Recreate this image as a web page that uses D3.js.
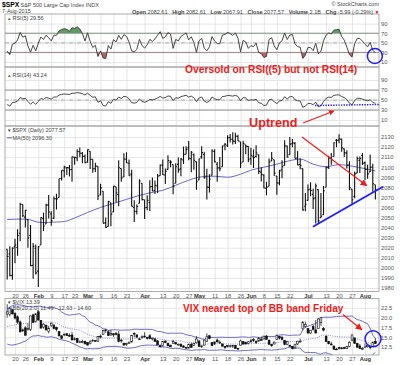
<!DOCTYPE html>
<html lang="en">
<head>
<meta charset="UTF-8">
<title>$SPX daily with RSI(5), RSI(14) and $VIX</title>
<script src="https://cdnjs.cloudflare.com/ajax/libs/d3/7.8.5/d3.min.js"></script>
<style>
  body { margin: 0; background: #fff; }
  svg { display: block; font-family: "Liberation Sans", Arial, sans-serif; }
  .tick text { font-size: 5.8px; fill: #555; font-family: "Liberation Sans", Arial, sans-serif; }
  .tick text.month { font-weight: bold; fill: #333; }
  .legend { font-size: 5.5px; fill: #444; }
  .note { fill: #f01c1c; font-weight: bold; }
</style>
</head>
<body>
<svg id="chart" width="400" height="365"></svg>
<script>
// ---- data ----
const months = ["Jan", "Feb", "Mar", "Apr", "May", "Jun", "Jul", "Aug"];
const monthDays = [
  [14,15,16,20,21,22,23,26,27,28,29,30],
  [2,3,4,5,6,9,10,11,12,13,17,18,19,20,23,24,25,26,27],
  [2,3,4,5,6,9,10,11,12,13,16,17,18,19,20,23,24,25,26,27,30,31],
  [1,2,6,7,8,9,10,13,14,15,16,17,20,21,22,23,24,27,28,29,30],
  [1,4,5,6,7,8,11,12,13,14,15,18,19,20,21,22,26,27,28,29],
  [1,2,3,4,5,8,9,10,11,12,15,16,17,18,19,22,23,24,25,26,29,30],
  [1,2,6,7,8,9,10,13,14,15,16,17,20,21,22,23,24,27,28,29,30,31],
  [3,4,5,6,7]
];

// x axis labels: [month, day, text]
const xTicks = [
  ["Jan",20,"20"],["Jan",26,"26"],["Feb",2,"Feb"],["Feb",9,"9"],["Feb",17,"17"],["Feb",23,"23"],
  ["Mar",2,"Mar"],["Mar",9,"9"],["Mar",16,"16"],["Mar",23,"23"],["Apr",1,"Apr"],["Apr",13,"13"],
  ["Apr",20,"20"],["Apr",27,"27"],["May",1,"May"],["May",11,"11"],["May",18,"18"],["May",26,"26"],
  ["Jun",1,"Jun"],["Jun",8,"8"],["Jun",15,"15"],["Jun",22,"22"],["Jul",1,"Jul"],["Jul",13,"13"],
  ["Jul",20,"20"],["Jul",27,"27"],["Aug",3,"Aug"]
];
const monthLabels = ["Feb","Mar","Apr","May","Jun","Jul","Aug"];

const rsiTicks = [10, 30, 50, 70, 90];
const priceTicks = [1980,1990,2000,2010,2020,2030,2040,2050,2060,2070,2080,2090,2100,2110,2120,2130];
const vixTicks = [12.5, 15.0, 17.5, 20.0, 22.5];

// $SPX daily OHLC, 14 Jan - 7 Aug 2015
const spxOpen = [
  2018.4,2013.8,1992.3,2020.8,2020.2,2034.3,2062.9,2050.4,2047.9,2032.3,2002.5,2019.4,
  1996.7,2022.7,2048.9,2043.5,2062.3,2053.5,2049.4,2068.6,2069.9,2088.8,2096.5,2099.2,2099.3,2097.7,2109.8,2109.1,2115.3,2113.9,2110.9,
  2105.2,2115.8,2107.7,2098.5,2100.9,2072.3,2076.1,2044.7,2041.1,2064.6,2055.4,2080.6,2072.8,2098.7,2090.3,2107.9,2103.9,2093.1,2059.9,2055.8,2064.1,2084.1,
  2067.6,2060.0,2064.9,2080.8,2076.9,2081.3,2091.5,2102.0,2092.3,2097.8,2105.0,2102.6,2084.1,2102.8,2098.3,2107.2,2112.8,2119.3,2108.4,2112.5,2105.5,
  2087.4,2110.2,2112.6,2091.3,2079.9,2092.1,2115.6,2102.9,2099.6,2100.4,2122.1,2121.3,2129.5,2127.8,2125.6,2130.4,2125.3,2105.1,2122.3,2120.7,
  2108.6,2110.4,2110.6,2112.4,2095.1,2092.3,2079.1,2081.1,2106.2,2107.4,2091.3,2084.3,2097.4,2101.6,2121.1,2112.5,2123.2,2123.6,2109.1,2102.6,2098.6,2061.2,
  2067.0,2078.0,2073.0,2069.5,2077.7,2049.7,2052.7,2080.0,2099.7,2109.0,2110.6,2126.8,2126.9,2127.6,2118.2,2114.2,2102.2,2078.2,2070.7,2094.1,2106.8,2111.6,
  2104.5,2097.7,2095.3,2100.1,2082.6
];
const spxHigh = [
  2018.4,2021.4,2020.5,2028.9,2038.3,2064.6,2062.9,2057.6,2047.9,2042.5,2024.6,2023.3,
  2021.7,2050.3,2054.7,2063.6,2072.4,2056.2,2070.9,2073.5,2088.5,2097.0,2101.3,2100.2,2102.1,2110.6,2110.1,2117.9,2119.6,2115.0,2112.7,
  2117.5,2115.8,2107.7,2104.3,2100.9,2083.5,2076.1,2050.1,2066.4,2064.6,2081.4,2080.6,2106.9,2098.7,2113.9,2114.9,2107.6,2097.4,2067.2,2062.8,2088.0,2084.1,
  2067.6,2072.2,2086.9,2089.8,2086.7,2093.3,2102.6,2107.7,2098.6,2111.9,2107.0,2102.6,2103.9,2109.6,2109.0,2120.5,2120.9,2125.9,2116.0,2113.7,2105.5,
  2108.4,2120.9,2115.2,2098.4,2092.9,2117.7,2117.7,2105.1,2110.2,2121.5,2123.9,2131.8,2133.0,2134.7,2134.3,2132.2,2125.3,2126.2,2122.3,2120.7,
  2119.2,2117.6,2121.9,2112.9,2100.0,2093.0,2085.6,2108.5,2115.0,2107.4,2091.3,2097.4,2106.8,2126.7,2121.6,2129.9,2128.0,2125.1,2116.0,2108.9,2098.6,2074.3,
  2082.8,2085.1,2078.6,2083.7,2077.7,2074.3,2081.3,2100.7,2111.4,2114.1,2124.4,2128.1,2132.8,2128.5,2118.5,2116.9,2106.0,2078.2,2095.6,2110.6,2110.5,2114.2,
  2105.7,2102.5,2112.7,2103.3,2082.6
];
const spxLow = [
  1988.4,1991.5,1988.1,2004.5,2012.0,2026.4,2050.5,2040.0,2019.9,2001.5,1989.2,1993.4,
  1980.9,2022.7,2036.7,2043.5,2049.0,2041.9,2048.6,2057.9,2069.9,2086.7,2089.8,2092.2,2090.8,2085.4,2102.5,2105.9,2109.9,2104.0,2103.8,
  2104.5,2098.3,2094.5,2095.2,2067.3,2072.2,2044.2,2039.7,2041.1,2041.2,2055.4,2065.1,2061.2,2085.6,2090.3,2104.4,2091.5,2061.1,2045.5,2052.9,2064.1,2067.0,
  2048.4,2057.3,2056.5,2076.1,2073.3,2074.3,2091.5,2092.3,2083.2,2097.8,2100.0,2073.0,2084.1,2094.4,2091.1,2103.2,2112.8,2107.0,2094.9,2097.4,2077.6,
  2087.4,2108.3,2088.5,2067.9,2074.9,2092.1,2104.6,2085.6,2096.0,2100.4,2116.8,2120.0,2124.5,2122.6,2123.0,2126.1,2099.2,2105.1,2112.9,2104.9,
  2102.5,2099.1,2109.6,2093.2,2085.7,2079.1,2072.1,2081.1,2106.2,2091.3,2072.5,2082.1,2088.9,2101.6,2109.5,2112.5,2119.9,2108.6,2101.8,2098.0,2056.6,2056.3,
  2067.0,2071.0,2058.4,2044.0,2044.7,2049.7,2052.7,2080.0,2098.2,2102.5,2110.6,2119.9,2123.7,2115.4,2110.0,2098.6,2077.1,2063.5,2069.1,2094.1,2094.1,2102.1,
  2087.3,2088.6,2095.3,2075.5,2067.9
];
const spxClose = [
  2011.3,1992.7,2019.4,2022.6,2032.1,2063.2,2051.8,2057.1,2029.6,2002.2,2021.3,1995.0,
  2020.9,2050.0,2041.5,2062.5,2055.5,2046.7,2068.6,2068.5,2088.5,2097.0,2100.3,2099.7,2097.5,2110.3,2109.7,2115.5,2113.9,2110.7,2104.5,
  2117.4,2107.8,2098.5,2101.0,2071.3,2079.4,2044.2,2040.2,2066.0,2053.4,2081.2,2074.3,2099.5,2089.3,2108.1,2104.4,2091.5,2061.1,2056.2,2061.0,2086.2,2067.9,
  2059.7,2067.0,2080.6,2076.3,2081.9,2091.2,2102.1,2092.4,2095.8,2106.6,2105.0,2081.2,2100.4,2097.3,2108.0,2112.9,2117.7,2108.9,2114.8,2106.9,2085.5,
  2108.3,2114.5,2089.5,2080.2,2088.0,2116.1,2105.3,2099.1,2098.5,2121.1,2122.7,2129.2,2127.8,2125.9,2130.8,2126.1,2104.2,2123.5,2120.8,2107.4,
  2111.7,2109.6,2114.1,2095.8,2092.8,2079.3,2080.2,2105.2,2108.9,2094.1,2084.4,2096.3,2100.4,2121.2,2110.0,2122.9,2124.2,2108.6,2102.3,2101.5,2057.6,2063.1,
  2077.4,2076.8,2068.8,2081.3,2046.7,2051.3,2076.6,2099.6,2109.0,2107.4,2124.3,2126.6,2128.3,2119.2,2114.2,2102.2,2079.7,2067.6,2093.3,2108.6,2108.6,2103.8,
  2098.0,2093.3,2099.8,2083.6,2077.6
];
// closes before the visible window (1 Dec 2014 - 13 Jan 2015), used for RSI warm-up
const spxPriorClose = [
  2053.4,2066.6,2074.3,2071.9,2075.4,2060.3,2059.8,2026.1,2035.3,2002.3,1989.6,1972.7,2012.9,2061.2,2070.7,
  2078.5,2082.2,2081.9,2088.8,2090.6,2080.4,2058.9,2058.2,2020.6,2002.6,2025.9,2062.1,2044.8,2028.3,2023.0
];

// MA(50): [month, day, value]
const ma50 = [
  ["Jan",14,2048],["Jan",26,2048.5],["Feb",3,2045],["Feb",11,2045.5],["Feb",17,2046],["Feb",23,2049.5],
  ["Mar",2,2055],["Mar",9,2060],["Mar",16,2064],["Mar",23,2068],["Mar",30,2072],["Apr",6,2074.5],
  ["Apr",13,2077],["Apr",20,2082],["Apr",27,2087],["May",4,2090.5],["May",11,2091],["May",18,2090],
  ["May",26,2093],["Jun",1,2097],["Jun",8,2100],["Jun",15,2103],["Jun",22,2106.5],["Jun",26,2108],
  ["Jul",6,2103],["Jul",13,2100.5],["Jul",20,2102.5],["Jul",27,2101],["Aug",3,2098.5],["Aug",7,2096.3]
];

// $VIX daily OHLC, same days
const vixOpen = [
  20.9,20.8,22.0,21.0,20.2,18.9,16.9,17.4,17.0,17.0,20.7,19.0,
  21.5,19.3,17.6,18.0,16.5,18.0,18.1,17.5,16.5,15.4,15.7,15.9,15.5,15.6,14.6,14.7,13.8,13.9,14.0,
  13.7,13.4,14.2,14.2,14.0,15.3,15.7,16.7,16.4,15.6,15.9,16.0,15.8,14.3,13.5,13.2,13.5,13.8,16.0,15.6,14.6,15.0,
  15.3,15.0,15.4,14.7,14.6,14.1,13.0,12.9,14.0,13.5,13.0,13.4,13.7,13.2,13.2,12.8,12.4,12.3,13.2,12.9,13.6,
  14.1,12.6,13.0,14.0,15.4,13.7,13.3,14.3,13.6,13.3,12.7,12.9,12.7,12.8,12.9,12.2,13.0,13.9,13.7,13.4,
  14.1,14.4,14.0,14.0,14.5,14.6,15.3,14.3,13.2,13.3,14.5,15.2,14.9,14.2,13.2,13.0,12.7,12.3,13.3,14.0,17.2,17.8,
  17.2,16.1,17.8,16.9,17.3,18.7,17.2,15.3,13.9,13.3,12.8,12.0,12.4,12.3,12.4,12.1,12.7,14.3,14.8,13.4,12.8,11.9,
  12.5,12.6,12.6,12.7,14.0
];
const vixHigh = [
  23.4,22.7,22.2,21.4,20.6,19.3,17.2,17.8,18.6,20.5,21.0,21.1,
  21.9,19.4,18.6,18.3,17.9,18.8,18.3,17.7,16.6,15.5,16.0,16.1,16.0,16.4,15.0,14.7,14.2,14.4,14.1,
  13.7,14.3,14.6,14.3,15.3,15.7,16.9,17.2,16.8,16.9,16.0,16.4,16.6,14.5,13.6,13.6,14.0,15.6,16.3,15.7,14.8,15.4,
  16.3,15.1,15.8,14.9,14.7,14.3,13.1,13.9,14.3,13.6,13.1,14.4,13.8,13.4,13.5,13.0,12.6,13.4,13.7,13.7,15.3,
  14.1,12.9,14.4,16.0,15.5,13.8,13.9,14.7,14.2,13.4,12.8,13.0,13.1,13.1,12.9,12.3,14.4,14.0,13.9,14.0,
  14.6,14.8,14.2,15.1,15.2,15.4,15.6,14.3,13.2,13.9,15.7,15.4,15.4,14.2,14.1,13.0,12.8,13.3,14.1,14.7,19.1,19.0,
  17.3,16.9,18.2,19.4,19.9,20.1,17.6,15.4,14.1,13.9,12.8,12.3,12.6,12.5,12.6,12.8,14.0,15.7,15.0,13.6,13.3,12.5,
  13.5,13.1,12.9,13.9,14.8
];
const vixLow = [
  20.0,20.3,20.8,19.5,18.4,16.2,16.3,15.5,16.7,16.6,18.6,18.7,
  19.2,17.3,17.2,16.8,16.0,17.6,17.0,16.5,15.3,14.5,15.3,15.3,15.1,14.3,14.2,13.6,13.5,13.5,13.2,
  12.9,13.2,13.9,13.8,13.9,14.7,15.6,16.1,15.3,15.4,15.1,15.5,13.7,13.6,12.9,12.8,13.3,13.7,15.0,14.8,14.3,14.6,
  14.9,14.4,14.5,14.2,13.8,13.0,12.5,12.6,13.5,12.7,12.5,13.3,13.2,12.9,12.6,12.3,12.2,12.1,12.4,12.8,13.5,
  12.6,12.3,12.9,13.8,14.5,12.8,13.1,13.6,13.3,12.7,12.0,12.4,12.4,12.3,12.1,11.8,12.9,13.2,13.2,13.2,
  13.6,13.8,13.3,13.9,14.1,14.4,14.4,13.1,12.6,13.2,14.4,14.4,14.2,13.0,13.0,12.6,11.9,12.2,13.0,13.7,16.8,17.4,
  15.9,15.8,16.7,16.0,17.1,17.9,16.5,13.8,13.2,12.9,11.9,11.8,11.9,11.9,12.0,12.0,12.5,14.0,13.3,12.3,12.1,11.8,
  12.3,12.4,11.9,12.6,13.3
];
const vixClose = [
  21.48,22.39,20.95,19.89,18.85,16.40,16.66,15.52,17.22,20.44,18.76,20.97,
  19.43,17.33,18.33,16.85,17.29,18.55,17.23,16.96,15.34,14.69,15.80,15.45,15.29,14.30,14.56,13.69,13.84,13.91,13.34,
  13.04,13.86,14.23,14.04,15.20,15.06,16.69,16.87,15.42,16.00,15.61,15.66,13.97,14.07,13.02,13.41,13.62,15.44,15.80,15.07,14.51,15.29,
  15.11,14.67,14.74,14.78,13.98,13.09,12.58,13.94,13.67,12.84,12.60,13.89,13.30,13.25,12.71,12.48,12.29,13.12,12.41,13.39,14.55,
  12.70,12.85,14.31,15.15,14.71,12.86,13.85,13.86,13.76,12.74,12.38,12.73,12.85,12.88,12.11,12.13,14.06,13.27,13.31,13.84,
  14.06,14.24,13.66,14.71,14.21,15.29,14.47,13.22,12.85,13.78,15.39,14.81,14.50,13.19,13.96,12.74,12.11,13.26,14.01,14.02,18.85,18.23,
  16.09,16.79,17.01,16.09,19.66,19.97,16.83,13.90,13.37,13.23,11.95,11.95,12.25,12.22,12.12,12.64,13.74,15.60,13.44,12.50,12.13,12.12,
  12.56,13.00,12.51,13.77,13.39
];
// $VIX closes 16 Dec 2014 - 13 Jan 2015, for the first Bollinger windows
const vixPriorClose = [19.44,17.98,16.81,16.49,15.25,14.80,14.37,14.50,15.06,16.33,19.20,17.79,19.92,21.12,19.31,17.01,17.55,19.60,20.56];

// ---- derived indicators (as the chart computes them) ----
function wilderRsi(closes, n) {
  const out = new Array(closes.length).fill(null);
  let gain = 0, loss = 0;
  for (let i = 1; i <= n; i++) {
    const ch = closes[i] - closes[i - 1];
    if (ch > 0) gain += ch; else loss -= ch;
  }
  gain /= n; loss /= n;
  out[n] = 100 - 100 / (1 + gain / loss);
  for (let i = n + 1; i < closes.length; i++) {
    const ch = closes[i] - closes[i - 1];
    gain = (gain * (n - 1) + Math.max(ch, 0)) / n;
    loss = (loss * (n - 1) + Math.max(-ch, 0)) / n;
    out[i] = loss === 0 ? 100 : 100 - 100 / (1 + gain / loss);
  }
  return out;
}
function bollinger(closes, n, k) {
  return closes.map((c, i) => {
    if (i < n - 1) return null;
    const w = closes.slice(i - n + 1, i + 1);
    const m = d3.mean(w);
    const sd = Math.sqrt(d3.mean(w, v => (v - m) * (v - m)));
    return { mid: m, up: m + k * sd, lo: m - k * sd };
  });
}

const allSpx = spxPriorClose.concat(spxClose);
const rsi5 = wilderRsi(allSpx, 5).slice(spxPriorClose.length);
const rsi14 = wilderRsi(allSpx, 14).slice(spxPriorClose.length);
const bb = bollinger(vixPriorClose.concat(vixClose), 20, 2).slice(vixPriorClose.length);

const dates = months.flatMap((m, k) => monthDays[k].map(d => m + " " + d));
const dateIdx = new Map(dates.map((d, i) => [d, i]));
const tickIdx = xTicks.map(t => dateIdx.get(t[0] + " " + t[1]));
const n = dates.length;

// ---- layout ----
const svg = d3.select("#chart");
const defs = svg.append("defs");
const L = 5, R = 379;
const P = {
  rsi5:  { top: 14,    bottom: 67 },
  rsi14: { top: 67,    bottom: 126 },
  price: { top: 126,   bottom: 291.5 },
  vix:   { top: 298.5, bottom: 355 }
};
Object.entries(P).forEach(([k, p]) => {
  defs.append("clipPath").attr("id", "clip-" + k).append("rect")
    .attr("x", L).attr("y", p.top).attr("width", R - L).attr("height", p.bottom - p.top);
});

const x = d3.scaleLinear().domain([-0.85, n + 0.4]).range([L, R]);
const yR5 = d3.scaleLinear().domain([0, 100]).range([66.8, 18.8]);
const yR14 = d3.scaleLinear().domain([0, 100]).range([125, 75]);
const yPx = d3.scaleLinear().domain([1976.5, 2140.9]).range([P.price.bottom, P.price.top]);
const yVix = d3.scaleLinear().domain([10.5, 24.86]).range([P.vix.bottom, P.vix.top]);

function panelGrid(p, y, ticks, fmt) {
  const g = svg.append("g");
  g.append("g").attr("transform", `translate(0,${p.bottom})`)
    .call(d3.axisBottom(x).tickValues(tickIdx).tickSize(-(p.bottom - p.top)).tickFormat(""))
    .call(a => a.select(".domain").remove())
    .call(a => a.selectAll("line").attr("stroke", "#e6e6e6"));
  g.append("g").attr("transform", `translate(${R},0)`)
    .call(d3.axisRight(y).tickValues(ticks).tickSize(-(R - L)).tickPadding(2).tickFormat(fmt))
    .call(a => a.select(".domain").remove())
    .call(a => a.selectAll("line").attr("stroke", "#e6e6e6"))
    .attr("font-size", null).attr("font-family", null);
  return g;
}
function dateAxis(yPos, pad) {
  svg.append("g").attr("transform", `translate(0,${yPos})`)
    .call(d3.axisBottom(x).tickValues(tickIdx).tickSize(0).tickPadding(pad)
      .tickFormat((d, i) => xTicks[i][2]))
    .call(a => a.select(".domain").remove())
    .attr("font-size", null).attr("font-family", null)
    .selectAll("text").classed("month", t => monthLabels.includes(xTicks[tickIdx.indexOf(t)][2]));
}
function frame(p) {
  svg.append("rect").attr("x", L).attr("y", p.top).attr("width", R - L).attr("height", p.bottom - p.top)
    .attr("fill", "none").attr("stroke", "#9a9a9a").attr("stroke-width", 0.8);
}

// ---- RSI panels ----
function rsiPanel(key, y, values, label) {
  const p = P[key];
  panelGrid(p, y, rsiTicks, d3.format("d"));
  const g = svg.append("g").attr("clip-path", `url(#clip-${key})`);
  [70, 30].forEach(v => g.append("line").attr("x1", L).attr("x2", R).attr("y1", y(v)).attr("y2", y(v))
    .attr("stroke", "#8a8a8a").attr("stroke-width", 0.9));
  g.append("line").attr("x1", L).attr("x2", R).attr("y1", y(50)).attr("y2", y(50))
    .attr("stroke", "#999").attr("stroke-width", 0.8).attr("stroke-dasharray", "4,1.5,1,1.5");

  const idx = values.map((v, i) => i);
  defs.append("clipPath").attr("id", `over-${key}`).append("rect")
    .attr("x", L).attr("y", p.top).attr("width", R - L).attr("height", y(70) - p.top);
  defs.append("clipPath").attr("id", `under-${key}`).append("rect")
    .attr("x", L).attr("y", y(30)).attr("width", R - L).attr("height", p.bottom - y(30));
  g.append("path").datum(idx).attr("clip-path", `url(#over-${key})`)
    .attr("d", d3.area().x(i => x(i)).y0(y(70)).y1(i => y(values[i])))
    .attr("fill", "#5f9c5f");
  g.append("path").datum(idx).attr("clip-path", `url(#under-${key})`)
    .attr("d", d3.area().x(i => x(i)).y0(y(30)).y1(i => y(values[i])))
    .attr("fill", "#b86262");
  g.append("path").datum(idx)
    .attr("d", d3.line().x(i => x(i)).y(i => y(values[i])))
    .attr("fill", "none").attr("stroke", "#333").attr("stroke-width", 0.9);
  frame(p);
  const t = svg.append("text").attr("class", "legend").attr("x", 7).attr("y", label.y);
  t.append("tspan").attr("fill", "#3d7d3d").attr("font-size", 4.5).text("▲");
  t.append("tspan").attr("dx", 1).text(label.text);
}
rsiPanel("rsi5", yR5, rsi5, { y: 19.6, text: "RSI(5) 29.56" });
rsiPanel("rsi14", yR14, rsi14, { y: 77.3, text: "RSI(14) 43.24" });

// ---- price panel ----
panelGrid(P.price, yPx, priceTicks, d3.format("d"));
const gPx = svg.append("g").attr("clip-path", "url(#clip-price)");
gPx.append("path").datum(ma50.map(d => [dateIdx.get(d[0] + " " + d[1]), d[2]]))
  .attr("d", d3.line().x(d => x(d[0])).y(d => yPx(d[1])).curve(d3.curveMonotoneX))
  .attr("fill", "none").attr("stroke", "#6a6ac8").attr("stroke-width", 1);
gPx.selectAll("path.bar").data(dates).join("path").attr("class", "bar")
  .attr("d", (d, i) => {
    const xi = x(i);
    return `M${xi},${yPx(spxHigh[i])}V${yPx(spxLow[i])}` +
           `M${xi - 1.3},${yPx(spxOpen[i])}H${xi}M${xi},${yPx(spxClose[i])}H${xi + 1.3}`;
  })
  .attr("fill", "none").attr("stroke", "#111").attr("stroke-width", 1.1);
frame(P.price);
dateAxis(P.price.bottom, 2);
{
  const t = svg.append("text").attr("class", "legend").attr("x", 7).attr("y", 132.3);
  t.append("tspan").attr("font-size", 4.5).text("▼");
  t.append("tspan").attr("dx", 1).text("$SPX (Daily) 2077.57");
  svg.append("line").attr("x1", 7).attr("x2", 12).attr("y1", 137.8).attr("y2", 137.8)
    .attr("stroke", "#5a5ac0").attr("stroke-width", 1);
  svg.append("text").attr("class", "legend").attr("x", 12.5).attr("y", 139.7)
    .attr("fill", "#5050a8").text("MA(50) 2096.30");
}

// ---- VIX panel ----
panelGrid(P.vix, yVix, vixTicks, d3.format(".1f"));
const gV = svg.append("g").attr("clip-path", "url(#clip-vix)");
const bbIdx = bb.map((v, i) => i);
["up", "lo"].forEach(k => gV.append("path").datum(bbIdx)
  .attr("d", d3.line().x(i => x(i)).y(i => yVix(bb[i][k])))
  .attr("fill", "none").attr("stroke", "#5c5cbf").attr("stroke-width", 0.9));
gV.append("path").datum(bbIdx)
  .attr("d", d3.line().x(i => x(i)).y(i => yVix(bb[i].mid)))
  .attr("fill", "none").attr("stroke", "#6b6bc6").attr("stroke-width", 0.8).attr("stroke-dasharray", "1,1.3");
gV.selectAll("line.wick").data(dates).join("line").attr("class", "wick")
  .attr("x1", (d, i) => x(i)).attr("x2", (d, i) => x(i))
  .attr("y1", (d, i) => yVix(vixHigh[i])).attr("y2", (d, i) => yVix(vixLow[i]))
  .attr("stroke", "#222").attr("stroke-width", 0.8);
gV.selectAll("rect.body").data(dates).join("rect").attr("class", "body")
  .attr("x", (d, i) => x(i) - 0.9).attr("width", 1.8)
  .attr("y", (d, i) => yVix(Math.max(vixOpen[i], vixClose[i])))
  .attr("height", (d, i) => Math.max(0.8, Math.abs(yVix(vixOpen[i]) - yVix(vixClose[i]))))
  .attr("fill", (d, i) => vixClose[i] >= vixOpen[i] ? "#fff" : "#111")
  .attr("stroke", "#111").attr("stroke-width", 0.6);
frame(P.vix);
dateAxis(P.vix.bottom, 1.5);
{
  const t = svg.append("text").attr("class", "legend").attr("x", 7).attr("y", 304);
  t.append("tspan").attr("font-size", 4.5).text("▼");
  t.append("tspan").attr("dx", 1).text("$VIX 13.39");
  svg.append("line").attr("x1", 7).attr("x2", 12).attr("y1", 308.2).attr("y2", 308.2)
    .attr("stroke", "#5a5ac0").attr("stroke-width", 1);
  svg.append("text").attr("class", "legend").attr("x", 12.5).attr("y", 310)
    .attr("fill", "#5050a8").text("BB(20,2.0) 11.49 - 12.93 - 14.60");
}

// ---- header ----
svg.append("text").attr("x", 2).attr("y", 7).attr("font-size", 6.8).attr("font-weight", "bold").text("$SPX");
svg.append("text").attr("class", "legend").attr("x", 20.5).attr("y", 6.8).text("S&P 500 Large Cap Index INDX");
svg.append("text").attr("class", "legend").attr("x", 2).attr("y", 13).attr("fill", "#222").text("7-Aug-2015");
svg.append("text").attr("class", "legend").attr("x", R).attr("y", 6.3).attr("text-anchor", "end")
  .attr("fill", "#666").text("© StockCharts.com");
const quote = [["Open", "2082.61"], ["High", "2082.61"], ["Low", "2067.91"], ["Close", "2077.57"],
               ["Volume", "2.1B"], ["Chg", "-5.99 (-0.29%)"]];
{
  // lay the quote fields out evenly between x = 132 and the right edge of the chart
  const items = quote.map(q => {
    const t = svg.append("text").attr("class", "legend").attr("y", 13.8)
      .attr("font-size", 5.9).attr("fill", "#222");
    t.append("tspan").attr("font-weight", "bold").text(q[0]);
    t.append("tspan").text(" " + q[1]);
    return t;
  });
  const widths = items.map(t => t.node().getComputedTextLength());
  const gap = Math.max(2, (R - 6 - 132 - d3.sum(widths)) / (items.length - 1));
  let qx = 132;
  items.forEach((t, i) => { t.attr("x", qx); qx += widths[i] + gap; });
  svg.append("text").attr("x", qx - gap + 1.5).attr("y", 13.8).attr("font-size", 5)
    .attr("fill", "#d01010").text("▼");
}

// ---- hand-drawn annotations (placed in data coordinates) ----
const red = "#f01c1c", blue = "#1f1ff0";
function arrowHead(id, size) {
  defs.append("marker").attr("id", id).attr("viewBox", "0 0 10 10").attr("refX", 9).attr("refY", 5)
    .attr("markerWidth", size).attr("markerHeight", size).attr("markerUnits", "userSpaceOnUse")
    .attr("orient", "auto")
    .append("path").attr("d", "M0,0L10,5L0,10z").attr("fill", red);
}
arrowHead("headBig", 7);
arrowHead("headSmall", 5.5);
function arrow(a, b, ya, yb, head) {
  svg.append("line").attr("x1", x(a[0])).attr("y1", ya(a[1])).attr("x2", x(b[0])).attr("y2", yb(b[1]))
    .attr("stroke", red).attr("stroke-width", 1.2).attr("marker-end", `url(#${head})`);
}
function note(text, at, y, size) {
  svg.append("text").attr("class", "note").attr("x", x(at[0])).attr("y", y(at[1]))
    .attr("font-size", size).text(text);
}

note("Oversold on RSI((5) but not RSI(14)", [68.6, 104], yR14, 10.3);
svg.append("circle").attr("cx", x(141.8)).attr("cy", yR5(22.5)).attr("r", 7.5)
  .attr("fill", "none").attr("stroke", blue).attr("stroke-width", 1.5);
svg.append("line").attr("x1", x(118.7)).attr("y1", yR14(39)).attr("x2", x(143.8)).attr("y2", yR14(41))
  .attr("stroke", blue).attr("stroke-width", 1.4).attr("stroke-dasharray", "1.4,1.2");

note("Uptrend", [93.3, 2139.9], yPx, 12.6);
arrow([114.1, 4], [126.0, 28], yR14, yR14, "headSmall");
arrow([113.7, 2130], [138.7, 2081.5], yPx, yPx, "headBig");
svg.append("line").attr("x1", x(117.9)).attr("y1", yPx(2040.9)).attr("x2", x(144.9)).attr("y2", yPx(2080.5))
  .attr("stroke", blue).attr("stroke-width", 1.8);

note("VIX neared top of BB band Friday", [67.8, 21.55], yVix, 10.1);
arrow([129.5, 20.8], [136.8, 16.9], yVix, yVix, "headBig");
svg.append("circle").attr("cx", x(141.1)).attr("cy", yVix(14.6)).attr("r", 8)
  .attr("fill", "none").attr("stroke", blue).attr("stroke-width", 1.5);
</script>
</body>
</html>
